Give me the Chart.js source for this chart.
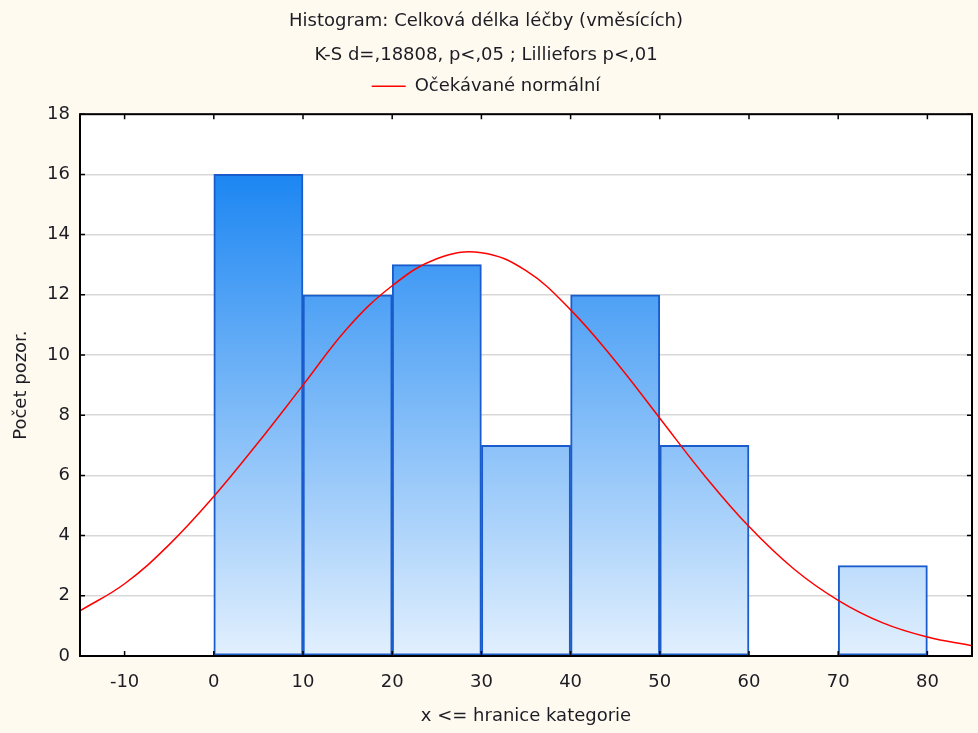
<!DOCTYPE html>
<html>
<head>
<meta charset="utf-8">
<script src="https://cdn.jsdelivr.net/npm/chart.js@4"></script>
<style>
  html, body { margin: 0; padding: 0; background: #fffaf0; }
  #wrap { width: 978px; height: 733px; position: relative; }
</style>
</head>
<body>
<div id="wrap"><canvas id="histChart"></canvas></div>
<script>
// histogram bins (class midpoints) and counts
const binMids = [5, 15, 25, 35, 45, 55, 65, 75];
const counts = [16, 12, 13, 7, 12, 7, 0, 3];

// expected normal curve, every 5 months
const curveX = [-15, -10, -5, 0, 5, 10, 15, 20, 25, 30, 35, 40, 45, 50, 55, 60, 65, 70, 75, 80, 85];
const curveY = [1.5, 2.4, 3.7, 5.3, 7.1, 9.0, 10.9, 12.3, 13.2, 13.4, 12.8, 11.5, 9.8, 7.9, 6.0, 4.3, 2.9, 1.85, 1.1, 0.63, 0.34];

const xTicks = [-10, 0, 10, 20, 30, 40, 50, 60, 70, 80];

const font = { family: "'DejaVu Sans', sans-serif", size: 18 };
const textColor = '#1c1c24';

// white plot area + frame + inward tick marks
const plotFrame = {
  id: 'plotFrame',
  beforeDraw(chart) {
    const { ctx, chartArea: a } = chart;
    ctx.save();
    ctx.fillStyle = '#ffffff';
    ctx.fillRect(a.left, a.top, a.right - a.left, a.bottom - a.top);
    ctx.restore();
  },
  afterDraw(chart) {
    const { ctx, chartArea: a, scales } = chart;
    ctx.save();
    ctx.strokeStyle = '#000';
    ctx.lineWidth = 2;
    ctx.strokeRect(a.left, a.top, a.right - a.left, a.bottom - a.top);
    ctx.lineWidth = 1.5;
    ctx.beginPath();
    scales.y.ticks.forEach(t => {
      const y = scales.y.getPixelForValue(t.value);
      ctx.moveTo(a.left, y); ctx.lineTo(a.left + 5, y);
      ctx.moveTo(a.right, y); ctx.lineTo(a.right - 5, y);
    });
    scales.x.ticks.forEach(t => {
      const x = scales.x.getPixelForValue(t.value);
      ctx.moveTo(x, a.top); ctx.lineTo(x, a.top + 5);
      ctx.moveTo(x, a.bottom); ctx.lineTo(x, a.bottom - 5);
    });
    ctx.stroke();
    ctx.restore();
  }
};

function barGradient(context) {
  const chart = context.chart;
  if (!chart.chartArea) return '#4fa3f5';
  const y = chart.scales.y;
  const g = chart.ctx.createLinearGradient(0, y.getPixelForValue(16), 0, y.getPixelForValue(0));
  g.addColorStop(0, '#1c86f2');
  g.addColorStop(1, '#e2f0fe');
  return g;
}

new Chart(document.getElementById('histChart'), {
  type: 'bar',
  data: {
    datasets: [
      {
        type: 'line',
        label: 'Očekávané normální',
        data: curveX.map((x, i) => ({ x: x, y: curveY[i] })),
        borderColor: '#ff0000',
        backgroundColor: '#ff0000',
        borderWidth: 1.5,
        pointRadius: 0,
        tension: 0.4,
        order: 0
      },
      {
        type: 'bar',
        label: 'Počet',
        data: binMids.map((x, i) => ({ x: x, y: counts[i] })),
        backgroundColor: barGradient,
        borderColor: '#1a5ccc',
        borderWidth: ctx => (ctx.raw && ctx.raw.y > 0 ? 2 : 0),
        borderSkipped: false,
        barPercentage: 1,
        categoryPercentage: 1,
        order: 1
      }
    ]
  },
  options: {
    responsive: true,
    maintainAspectRatio: false,
    animation: false,
    layout: { padding: { left: 0, right: 6, top: 0, bottom: 0 } },
    plugins: {
      title: {
        display: true,
        text: 'Histogram: Celková délka léčby (vměsících)',
        color: textColor,
        font: { ...font, weight: 'normal' },
        padding: { top: 11, bottom: 0 }
      },
      subtitle: {
        display: true,
        text: 'K-S d=,18808, p<,05 ; Lilliefors p<,01',
        color: textColor,
        font: font,
        padding: { top: 12, bottom: 0 }
      },
      legend: {
        display: true,
        labels: {
          color: textColor,
          font: font,
          usePointStyle: true,
          pointStyle: 'line',
          pointStyleWidth: 34,
          padding: 11,
          filter: item => item.datasetIndex === 0
        }
      },
      tooltip: { enabled: false }
    },
    scales: {
      x: {
        type: 'linear',
        min: -15,
        max: 85,
        offset: false,
        afterFit: s => { s.height = 77; },
        afterBuildTicks: s => { s.ticks = xTicks.map(v => ({ value: v })); },
        grid: { display: false },
        border: { display: false },
        ticks: { color: textColor, font: font, padding: 8, maxRotation: 0 },
        title: { display: true, text: 'x <= hranice kategorie', color: textColor, font: font, padding: { top: 4, bottom: 6 } }
      },
      // empty top axis, only keeps a gap between legend and plot
      xTop: {
        type: 'linear',
        position: 'top',
        min: -15,
        max: 85,
        afterFit: s => { s.height = 9; },
        grid: { display: false },
        border: { display: false },
        ticks: { display: false }
      },
      y: {
        min: 0,
        max: 18,
        afterFit: s => { s.width = 80; },
        grid: { color: '#d8d8d8', lineWidth: 1.5, drawTicks: false },
        border: { display: false },
        ticks: { stepSize: 2, color: textColor, font: font, padding: 10 },
        title: { display: true, text: 'Počet pozor.', color: textColor, font: font, padding: { top: 11, bottom: 2 } }
      }
    }
  },
  plugins: [plotFrame]
});
</script>
</body>
</html>
